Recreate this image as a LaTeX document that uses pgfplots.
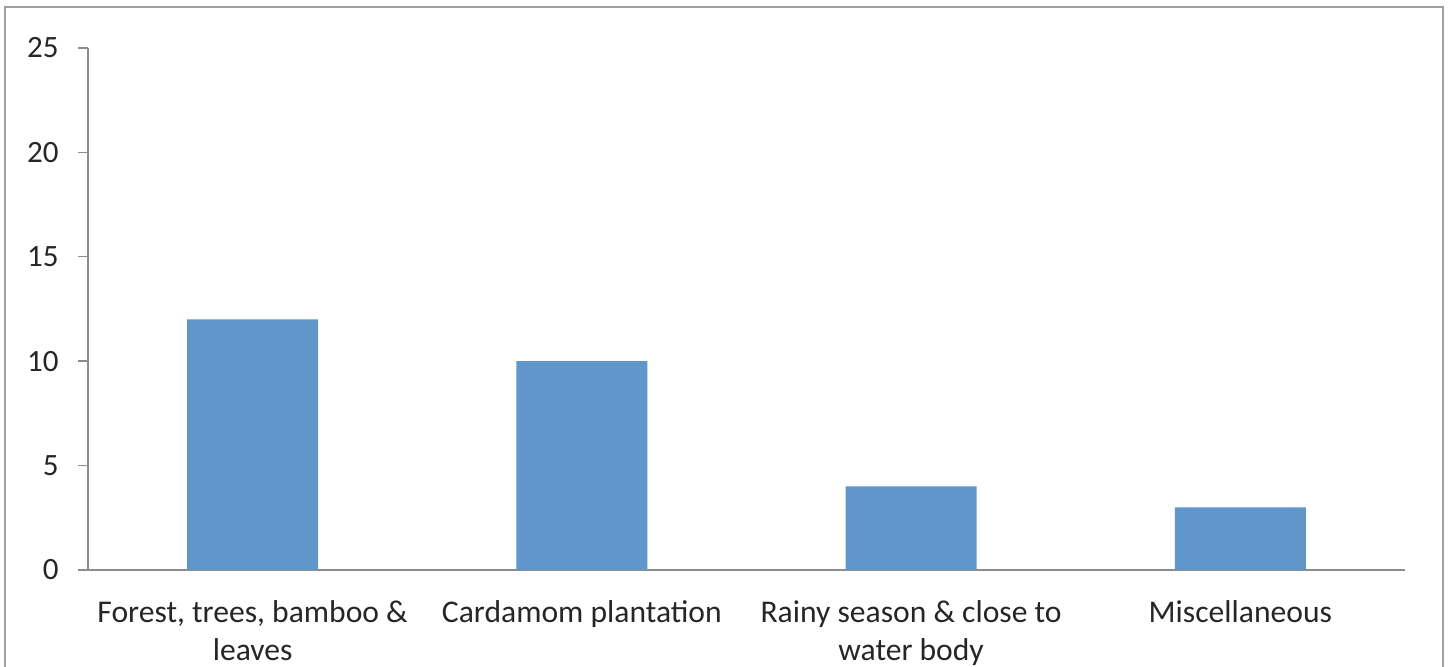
\documentclass[border=0pt]{standalone}
\usepackage{fontspec}
\setmainfont{Carlito}
\usepackage{pgfplots}
\pgfplotsset{compat=1.18}
\definecolor{barblue}{HTML}{6096CA}
\definecolor{axgray}{HTML}{8C8C8C}
\definecolor{txt}{HTML}{262626}
\begin{document}
\begin{tikzpicture}
\clip (0,0) rectangle (724pt,-333.5pt);
\fill[white] (0,0) rectangle (724pt,-333.5pt);
\draw[color={rgb,255:red,160;green,160;blue,160}, line width=1.1pt] (2.5pt,-3.5pt) rectangle (721.5pt,-345pt);
\begin{axis}[
  at={(44pt,-285pt)}, anchor=south west,
  scale only axis, width=658.5pt, height=261pt,
  xmin=-0.5, xmax=3.5, ymin=0, ymax=25,
  axis x line=bottom, axis y line=left,
  axis line style={axgray, line width=0.7pt, -},
  every tick/.style={axgray, line width=0.7pt},
  tick align=outside,
  ytick={0,5,10,15,20,25},
  major tick length=5pt,
  xtick={0,1,2,3},
  x tick style={draw=none},
  minor xtick={-0.5,0.5,1.5,2.5,3.5},
  minor tick length=4pt,
  xticklabels={{Forest, trees, bamboo \&\\leaves},{Cardamom plantation},{Rainy season \& close to\\water body},{Miscellaneous}},
  xticklabel style={anchor=north, inner sep=0pt, yshift=-10pt, align=center, font=\fontsize{15.8}{19}\selectfont, text=txt},
  yticklabel style={anchor=east, inner sep=0pt, xshift=-9.5pt, font=\fontsize{15.5}{19}\selectfont, text=txt},
  /pgf/number format/assume math mode=true,
  ybar, bar width=65.5pt,
]
\addplot[fill=barblue, draw=none] coordinates {(0,12) (1,10) (2,4) (3,3)};
\end{axis}
\end{tikzpicture}
\end{document}
